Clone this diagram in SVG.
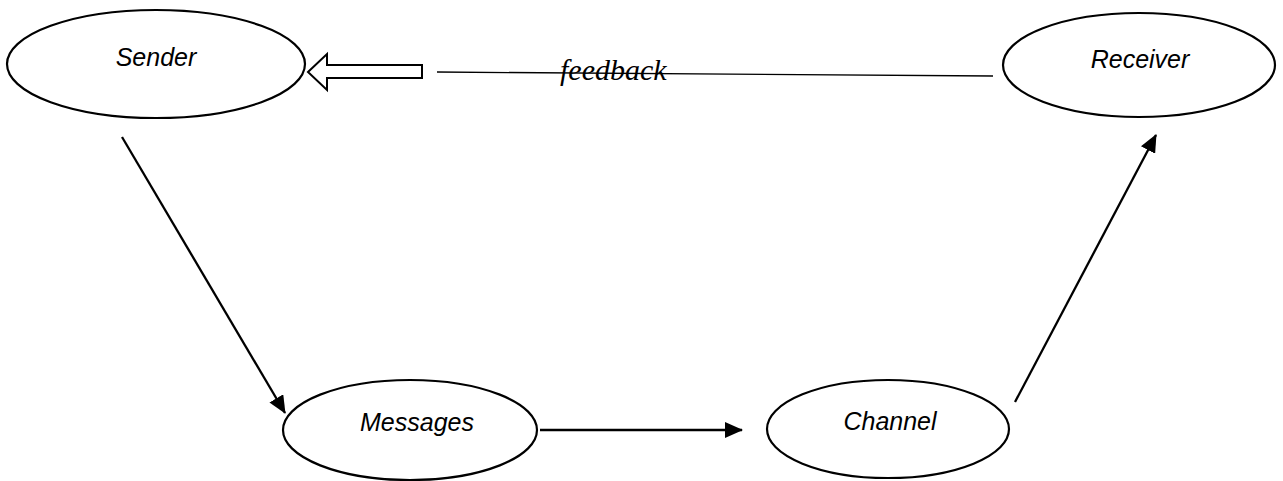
<svg xmlns="http://www.w3.org/2000/svg" width="1283" height="481" viewBox="0 0 1283 481">
<style>
.node{fill:#fff;stroke:#000;stroke-width:2.2}
.lbl{font-family:"Liberation Sans",Arial,sans-serif;font-style:italic;font-size:25px;fill:#000;text-anchor:middle}
.edge{stroke:#000;stroke-width:2.3;fill:none}
</style>
<defs>
<marker id="ah" markerUnits="userSpaceOnUse" markerWidth="18" markerHeight="16" refX="17" refY="8" orient="auto">
<path d="M0,0 L18,8 L0,16 Z" fill="#000"/>
</marker>
</defs>
<rect width="1283" height="481" fill="#fff"/>
<g id="sender">
<ellipse class="node" cx="156" cy="64" rx="149" ry="54"/>
<text class="lbl" x="156" y="66">Sender</text>
</g>
<g id="receiver">
<ellipse class="node" cx="1139" cy="65" rx="136" ry="52"/>
<text class="lbl" x="1140" y="68">Receiver</text>
</g>
<g id="messages">
<ellipse class="node" cx="410" cy="430" rx="127" ry="50"/>
<text class="lbl" x="417" y="431">Messages</text>
</g>
<g id="channel">
<ellipse class="node" cx="888" cy="429" rx="121" ry="49"/>
<text class="lbl" x="890" y="430">Channel</text>
</g>
<g id="connectors">
<line class="edge" x1="122" y1="137" x2="285" y2="413" marker-end="url(#ah)"/>
<line class="edge" x1="540" y1="430" x2="742" y2="430" marker-end="url(#ah)"/>
<line class="edge" x1="1015" y1="402" x2="1156" y2="135" marker-end="url(#ah)"/>
<path d="M308,72 L327,54 L327,65 L422,65 L422,78 L327,78 L327,90 Z" fill="#fff" stroke="#000" stroke-width="2"/>
<text x="560" y="80" font-family="'Liberation Serif','Times New Roman',serif" font-style="italic" font-size="30" fill="#000">feedback</text>
<line x1="437" y1="72" x2="993" y2="76" stroke="#000" stroke-width="1.3"/>
</g>
</svg>
